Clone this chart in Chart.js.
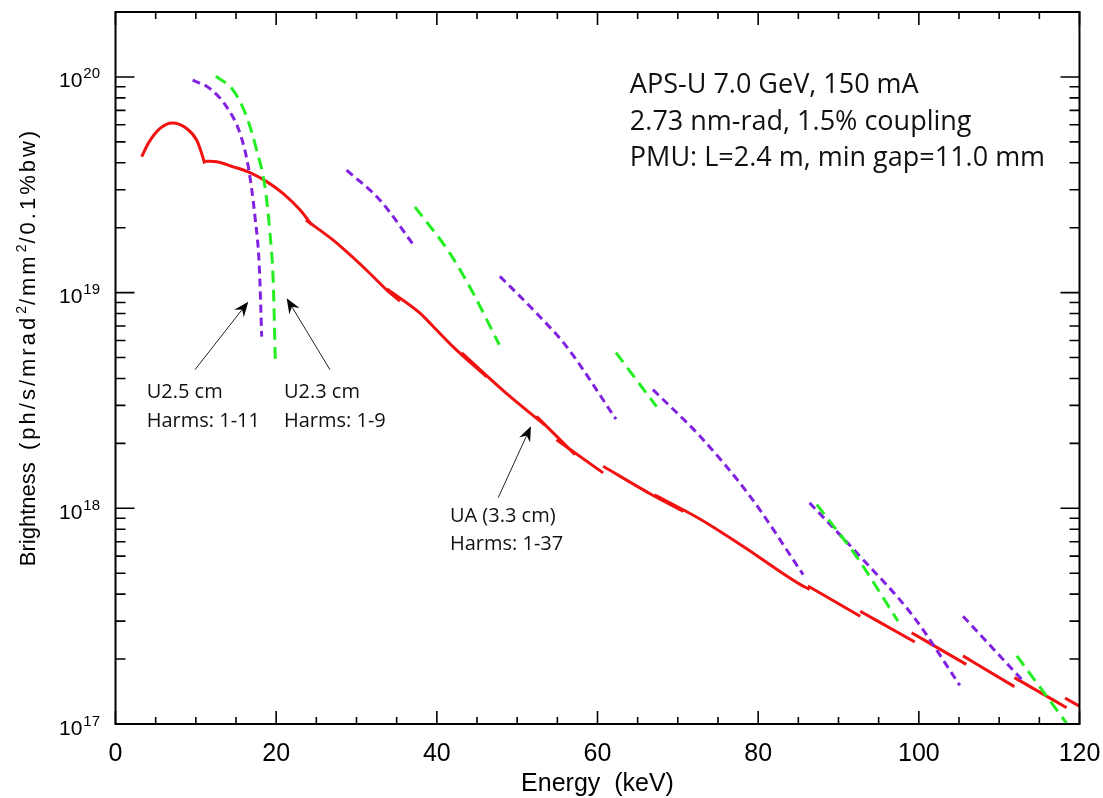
<!DOCTYPE html>
<html><head><meta charset="utf-8">
<script src="https://cdn.jsdelivr.net/npm/chart.js@4.4.1/dist/chart.umd.min.js"></script>
<style>html,body{margin:0;padding:0;background:#fff;} #wrap{width:1103px;height:798px;}</style>
</head><body><div id="wrap"><canvas id="c" width="1103" height="798"></canvas></div>
<script>
// ---- UA (3.3 cm) tuning curve segments: [energy keV, brightness]
const UA_H1  = [[3.26,4.27e19],[4.08,4.92e19],[5.54,5.77e19],[7.07,6.12e19],[8.86,5.77e19],[10.11,5.09e19],[10.73,4.42e19],[11.10,3.97e19]];
const UA_H3  = [[11.18,4.07e19],[12.6,4.04e19],[14.66,3.83e19],[16.74,3.60e19],[18.82,3.27e19],[20.88,2.88e19],[22.96,2.42e19],[24.42,2.06e19]];
const UA_H5  = [[23.7,2.17e19],[27.1,1.75e19],[31.26,1.27e19],[33.75,1.03e19],[35.4,9.14e18]];
const UA_H7  = [[33.8,1.04e19],[37.9,8.04e18],[39.55,6.97e18],[42.0,5.62e18],[46.2,4.07e18]];
const UA_H9  = [[43.1,5.25e18],[49.1,3.30e18],[53.4,2.44e18]];
const UA_H11 = [[52.4,2.67e18],[57.2,1.775e18]];
const UA_H13 = [[54.9,2.08e18],[60.7,1.46e18]];
const UA_H15 = [[60.7,1.567e18],[67.1,1.138e18],[70.7,9.68e17]];
const UA_H17 = [[67.1,1.156e18],[72.8,8.9e17],[78.1,6.67e17],[85.2,4.44e17],[86.4,4.21e17]];
const UA_H19 = [[86.2,4.36e17],[92.7,3.16e17]];
const UA_H21 = [[92.7,3.33e17],[99.5,2.40e17]];
const UA_H23 = [[99.1,2.65e17],[105.9,1.89e17]];
const UA_H25 = [[105.5,2.07e17],[111.9,1.49e17]];
const UA_H27 = [[111.9,1.64e17],[118.4,1.19e17]];
const UA_H29 = [[118.2,1.32e17],[120.0,1.21e17]];

// ---- U2.5 cm (harms 1-11)
const U25_H1  = [[9.6,9.66e19],[11.76,8.83e19],[13.84,7.26e19],[15.5,5.47e19],[16.53,3.83e19],[17.36,2.25e19],[17.9,1.32e19],[18.2,6.25e18]];
const U25_H3  = [[28.77,3.70e19],[32.9,2.69e19],[37.27,1.63e19]];
const U25_H5  = [[47.85,1.19e19],[52.0,8.32e18],[56.15,5.62e18],[62.3,2.59e18]];
const U25_H7  = [[66.9,3.55e18],[72.8,2.15e18],[78.97,1.14e18],[85.6,4.93e17]];
const U25_H9  = [[86.4,1.06e18],[92.66,6.0e17],[99.3,3.16e17],[105.1,1.51e17]];
const U25_H11 = [[105.5,3.16e17],[112.8,1.61e17]];

// ---- U2.3 cm (harms 1-9)
const U23_H1 = [[12.5,1.007e20],[14.66,8.67e19],[16.33,6.53e19],[17.57,4.58e19],[18.6,3.10e19],[19.23,1.88e19],[19.64,1.11e19],[19.89,4.88e18]];
const U23_H3 = [[37.27,2.50e19],[41.63,1.52e19],[44.53,9.93e18],[47.77,5.73e18]];
const U23_H5 = [[62.3,5.27e18],[67.35,2.96e18]];
const U23_H7 = [[87.3,1.04e18],[92.2,6.0e17],[97.4,3.0e17]];
const U23_H9 = [[112.2,2.07e17],[118.4,1.007e17]];

// ---- axis ticks
const xTickValues = [0,20,40,60,80,100,120];
const xTickLabels = ['0','20','40','60','80','100','120'];
const yTickValues = [1e17,1e18,1e19,1e20];
const yTickExponents = ['17','18','19','20'];

const uaSegments  = [UA_H1,UA_H3,UA_H5,UA_H7,UA_H9,UA_H11,UA_H13,UA_H15,UA_H17,UA_H19,UA_H21,UA_H23,UA_H25,UA_H27,UA_H29];
const u25Segments = [U25_H1,U25_H3,U25_H5,U25_H7,U25_H9,U25_H11];
const u23Segments = [U23_H1,U23_H3,U23_H5,U23_H7,U23_H9];

const RED = '#f21212', PURPLE = '#8122e0', GREEN = '#22ee22';

function ds(points, color, dash){
  return {data: points.map(p=>({x:p[0],y:p[1]})), showLine:true, borderColor:color, borderWidth:3,
    borderDash:dash||[], pointRadius:0, pointHoverRadius:0, cubicInterpolationMode:'monotone', fill:false, borderCapStyle:'butt'};
}
const datasets = [];
u23Segments.forEach(s=>datasets.push(ds(s, GREEN, [12,7])));
u25Segments.forEach(s=>datasets.push(ds(s, PURPLE, [8,5])));
uaSegments.forEach(s=>datasets.push(ds(s, RED)));

// annotations (data coordinates)
const arrows = [
  {from:[9.89,4.39e18], to:[16.53,9.08e18]},
  {from:[26.7,4.39e18], to:[21.31,9.42e18]},
  {from:[47.64,1.12e18], to:[51.71,2.40e18]}
];
const notes = [
  {x:3.88, lines:[[3.44e18,'U2.5 cm'],[2.53e18,'Harms: 1-11']], size:20},
  {x:20.97, lines:[[3.44e18,'U2.3 cm'],[2.53e18,'Harms: 1-9']], size:20},
  {x:41.63, lines:[[9.18e17,'UA (3.3 cm)'],[6.79e17,'Harms: 1-37']], size:20},
  {x:64.03, lines:[[9.15e19,'APS-U 7.0 GeV, 150 mA'],[6.19e19,'2.73 nm-rad, 1.5% coupling'],[4.19e19,'PMU: L=2.4 m, min gap=11.0 mm']], size:27}
];

const framePlugin = {
  id:'frame',
  afterDraw(chart){
    const ctx = chart.ctx, xs = chart.scales.x, ys = chart.scales.y, a = chart.chartArea;
    ctx.save();
    ctx.strokeStyle = '#000'; ctx.lineWidth = 2;
    ctx.strokeRect(a.left, a.top, a.right-a.left, a.bottom-a.top);
    ctx.lineWidth = 1.6;
    // x ticks
    for(let v=0; v<=120; v+=5){
      const px = xs.getPixelForValue(v);
      const len = (v%20===0) ? 13 : 7;
      ctx.beginPath();
      ctx.moveTo(px, a.bottom); ctx.lineTo(px, a.bottom-len);
      ctx.moveTo(px, a.top); ctx.lineTo(px, a.top+len);
      ctx.stroke();
    }
    // y ticks
    for(let e=17; e<=20; e++){
      for(let m=1; m<=9; m++){
        const v = m*Math.pow(10,e);
        if(v<1e17 || v>2e20) continue;
        const py = ys.getPixelForValue(v);
        const len = (m===1) ? 19 : 10;
        ctx.beginPath();
        ctx.moveTo(a.left, py); ctx.lineTo(a.left+len, py);
        ctx.moveTo(a.right, py); ctx.lineTo(a.right-len, py);
        ctx.stroke();
      }
    }
    // x tick labels
    ctx.fillStyle = '#000';
    ctx.font = '25px "Liberation Sans"';
    ctx.textAlign = 'center'; ctx.textBaseline = 'alphabetic';
    xTickValues.forEach((v,i)=>{ ctx.fillText(xTickLabels[i], xs.getPixelForValue(v), 761); });
    // y tick labels 10^n
    yTickValues.forEach((v,i)=>{
      const py = ys.getPixelForValue(v);
      ctx.font = '15px "Liberation Sans"';
      const ew = ctx.measureText(yTickExponents[i]).width;
      const expLeft = 100 - ew;
      ctx.textAlign = 'left';
      ctx.fillText(yTickExponents[i], expLeft, py+1.5);
      ctx.font = '21px "Liberation Sans"';
      ctx.textAlign = 'right';
      ctx.fillText('10', expLeft-1, py+10.5);
    });
    // x title
    ctx.font = '25px "Liberation Sans"';
    ctx.textAlign = 'center';
    ctx.fillText('Energy  (keV)', (a.left+a.right)/2, 791);
    // y title with superscripts (wide spacing in parenthetical part)
    const parts = [['Brightness',0,0],['  ',0,0],['(ph/s/mrad',0,3],['2',1,0],['/mm',0,3],['2',1,0],['/0.1%bw)',0,3]];
    const bigF = '22px "Liberation Sans"', supF = '14px "Liberation Sans"';
    const pieceWidth = p=>{ ctx.font = p[1]?supF:bigF; let w=0; for(const ch of p[0]) w += ctx.measureText(ch).width + p[2]; return w + (p[1]?2:0); };
    let total = 0; parts.forEach(p=>{ total += pieceWidth(p); });
    ctx.translate(35, 347); ctx.rotate(-Math.PI/2);
    ctx.textAlign = 'left';
    let cx = -total/2;
    parts.forEach(p=>{
      ctx.font = p[1]?supF:bigF;
      let x = cx + (p[1]?1:0);
      for(const ch of p[0]){ ctx.fillText(ch, x, p[1]? -9 : 0); x += ctx.measureText(ch).width + p[2]; }
      cx += pieceWidth(p);
    });
    ctx.restore();

    // annotations
    ctx.save();
    ctx.fillStyle = '#111'; ctx.strokeStyle = '#222'; ctx.lineWidth = 1;
    notes.forEach(n=>{
      ctx.font = n.size+'px "Open Sans"';
      ctx.textAlign = 'left'; ctx.textBaseline = 'middle';
      n.lines.forEach(l=>{ ctx.fillText(l[1], xs.getPixelForValue(n.x), ys.getPixelForValue(l[0])); });
    });
    arrows.forEach(ar=>{
      const x0 = xs.getPixelForValue(ar.from[0]), y0 = ys.getPixelForValue(ar.from[1]);
      const x1 = xs.getPixelForValue(ar.to[0]), y1 = ys.getPixelForValue(ar.to[1]);
      const dx = x1-x0, dy = y1-y0, L = Math.hypot(dx,dy), ux = dx/L, uy = dy/L, nx = -uy, ny = ux;
      ctx.beginPath(); ctx.moveTo(x0,y0); ctx.lineTo(x1-ux*8, y1-uy*8); ctx.stroke();
      ctx.beginPath();
      ctx.moveTo(x1,y1);
      ctx.lineTo(x1-ux*15+nx*6, y1-uy*15+ny*6);
      ctx.lineTo(x1-ux*10, y1-uy*10);
      ctx.lineTo(x1-ux*15-nx*6, y1-uy*15-ny*6);
      ctx.closePath(); ctx.fillStyle = '#000'; ctx.fill();
    });
    ctx.restore();
  }
};

new Chart(document.getElementById('c'), {
  type:'scatter',
  data:{datasets},
  options:{
    responsive:false, animation:false, devicePixelRatio:1,
    layout:{padding:{left:115.5, right:23.5, top:12, bottom:74}},
    plugins:{legend:{display:false}, tooltip:{enabled:false}},
    events:[],
    scales:{
      x:{type:'linear', min:0, max:120, display:false},
      y:{type:'logarithmic', min:1e17, max:2e20, display:false}
    }
  },
  plugins:[framePlugin]
});
</script>
</body></html>
